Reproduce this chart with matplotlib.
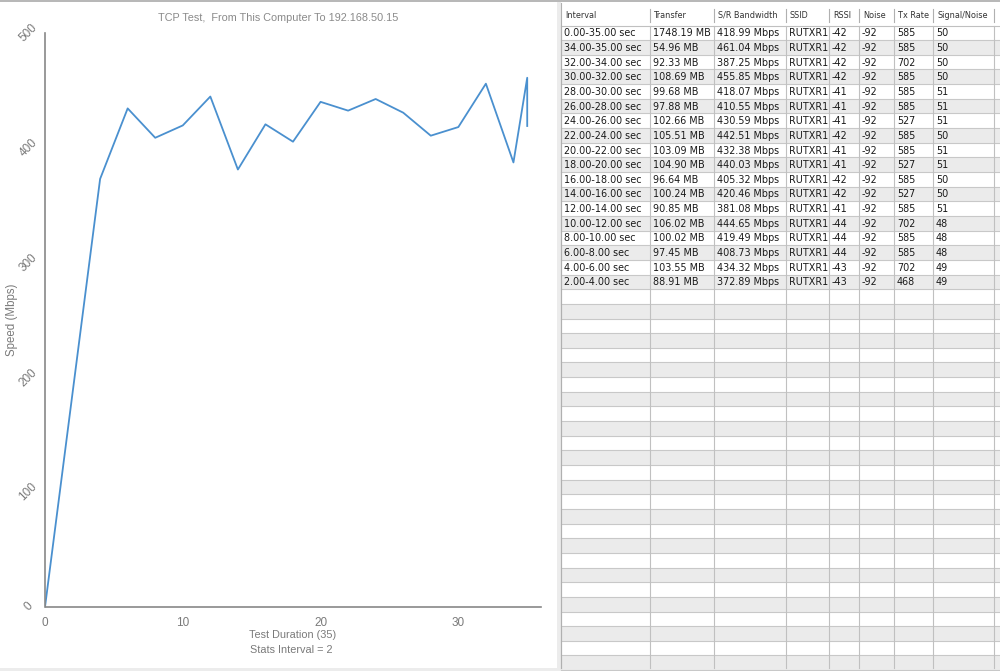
import matplotlib.pyplot as plt
from matplotlib.patches import Rectangle

# Table data (rows as shown, newest first)
intervals = ["0.00-35.00 sec", "34.00-35.00 sec", "32.00-34.00 sec", "30.00-32.00 sec",
             "28.00-30.00 sec", "26.00-28.00 sec", "24.00-26.00 sec", "22.00-24.00 sec",
             "20.00-22.00 sec", "18.00-20.00 sec", "16.00-18.00 sec", "14.00-16.00 sec",
             "12.00-14.00 sec", "10.00-12.00 sec", "8.00-10.00 sec", "6.00-8.00 sec",
             "4.00-6.00 sec", "2.00-4.00 sec"]
transfer = ["1748.19 MB", "54.96 MB", "92.33 MB", "108.69 MB", "99.68 MB", "97.88 MB",
            "102.66 MB", "105.51 MB", "103.09 MB", "104.90 MB", "96.64 MB", "100.24 MB",
            "90.85 MB", "106.02 MB", "100.02 MB", "97.45 MB", "103.55 MB", "88.91 MB"]
bandwidth = ["418.99 Mbps", "461.04 Mbps", "387.25 Mbps", "455.85 Mbps", "418.07 Mbps",
             "410.55 Mbps", "430.59 Mbps", "442.51 Mbps", "432.38 Mbps", "440.03 Mbps",
             "405.32 Mbps", "420.46 Mbps", "381.08 Mbps", "444.65 Mbps", "419.49 Mbps",
             "408.73 Mbps", "434.32 Mbps", "372.89 Mbps"]
ssid = ["RUTXR1"] * 18
rssi = [-42, -42, -42, -42, -41, -41, -41, -42, -41, -41, -42, -42, -41, -44, -44, -44, -43, -43]
noise = [-92] * 18
tx_rate = [585, 585, 702, 585, 585, 585, 527, 585, 585, 527, 585, 527, 585, 702, 585, 585, 702, 468]
snr = [50, 50, 50, 50, 51, 51, 51, 50, 51, 51, 50, 50, 51, 48, 48, 48, 49, 49]
headers = ["Interval", "Transfer", "S/R Bandwidth", "SSID", "RSSI", "Noise", "Tx Rate", "Signal/Noise"]

# Chart series
speed_time = [0, 4, 6, 8, 10, 12, 14, 16, 18, 20, 22, 24, 26, 28, 30, 32, 34, 35, 35]
speed_mbps = [0, 372.89, 434.32, 408.73, 419.49, 444.65, 381.08, 420.46, 405.32, 440.03,
              432.38, 442.51, 430.59, 410.55, 418.07, 455.85, 387.25, 461.04, 418.99]

W, H = 1000, 671
GREY_TXT = "#7a7a7a"
plt.rcParams['font.family'] = ['Liberation Sans', 'DejaVu Sans']
TABLE_FONT = ['DejaVu Sans']

fig = plt.figure(figsize=(W / 100, H / 100), dpi=100)

# background / table axes in pixel coords
bg = fig.add_axes([0, 0, 1, 1])
bg.set_xlim(0, W)
bg.set_ylim(H, 0)
bg.axis('off')

bg.add_patch(Rectangle((0, 0), W, 2, color="#b8b8b8", lw=0))
bg.add_patch(Rectangle((0, 668), W, 3, color="#ececec", lw=0))
bg.add_patch(Rectangle((557, 2), 4, 666, color="#ececec", lw=0))

col_x = [561, 650, 714, 786, 829, 859, 894, 933, 994]
head_top, head_bot = 3, 25.5
row_h = 14.65
n_rows = int((668 - head_bot) // row_h) + 1

# header
bg.add_patch(Rectangle((561, head_top), W - 561, head_bot - head_top, color="white", lw=0))
for j, name in enumerate(headers):
    bg.text(col_x[j] + 4, (head_top + head_bot) / 2 + 1, name, fontsize=5.9,
            family=TABLE_FONT, color="#333333", va='center', ha='left')
    if j > 0:
        bg.plot([col_x[j], col_x[j]], [9, 22], color="#b0b0b0", lw=0.8)
bg.plot([col_x[-1], col_x[-1]], [9, 22], color="#b0b0b0", lw=0.8)
bg.plot([561, W], [head_bot, head_bot], color="#c0c0c0", lw=0.8)

# body rows
columns = [intervals, transfer, bandwidth, ssid, rssi, noise, tx_rate, snr]
for i in range(n_rows):
    top = head_bot + i * row_h
    face = "white" if i % 2 == 0 else "#ebebeb"
    bg.add_patch(Rectangle((561, top), W - 561, row_h, color=face, lw=0))
    bg.plot([561, W], [top + row_h, top + row_h], color="#c8c8c8", lw=0.8)
    if i < len(intervals):
        for j, col in enumerate(columns):
            bg.text(col_x[j] + 3, top + row_h / 2 + 0.5, str(col[i]), fontsize=6.9,
                    family=TABLE_FONT, color="#1a1a1a", va='center', ha='left')
for x in col_x:
    bg.plot([x, x], [head_bot, 668], color="#c0c0c0", lw=0.8)
bg.plot([561, 561], [head_top, 668], color="#b0b0b0", lw=0.8)

# chart axes
ax = fig.add_axes([45 / W, 64 / H, 496 / W, 574 / H])
ax.patch.set_alpha(0)
ax.plot(speed_time, speed_mbps, color="#4a90cf", lw=1.3)
ax.set_xlim(0, 36)
ax.set_ylim(0, 500)
ax.set_xticks([0, 10, 20, 30])
ax.set_yticks([0, 100, 200, 300, 400, 500])
for s in ['top', 'right']:
    ax.spines[s].set_visible(False)
for s in ['left', 'bottom']:
    ax.spines[s].set_color("#888888")
    ax.spines[s].set_linewidth(1.2)
ax.spines['bottom'].set_bounds(0.1, 36)
ax.tick_params(axis='both', length=0, labelcolor=GREY_TXT, labelsize=8.5)
ax.tick_params(axis='x', pad=7)
ax.tick_params(axis='y', pad=12)
for lab in ax.get_yticklabels():
    lab.set_rotation(45)
    lab.set_ha('center')
    lab.set_va('center')
    lab.set_rotation_mode('anchor')

fig.text(278 / W, 1 - 18 / H, "TCP Test,  From This Computer To 192.168.50.15",
         fontsize=7.8, color="#8a8a8a", ha='center', va='center')
fig.text(12 / W, 1 - 320 / H, "Speed (Mbps)", fontsize=8.3, color=GREY_TXT,
         rotation=90, ha='center', va='center')
fig.text(293 / W, 1 - 635 / H, "Test Duration (35)", fontsize=7.8, color=GREY_TXT,
         ha='center', va='center')
fig.text(291 / W, 1 - 650 / H, "Stats Interval = 2", fontsize=7.8, color=GREY_TXT,
         ha='center', va='center')

fig.savefig("out.png", dpi=100)
